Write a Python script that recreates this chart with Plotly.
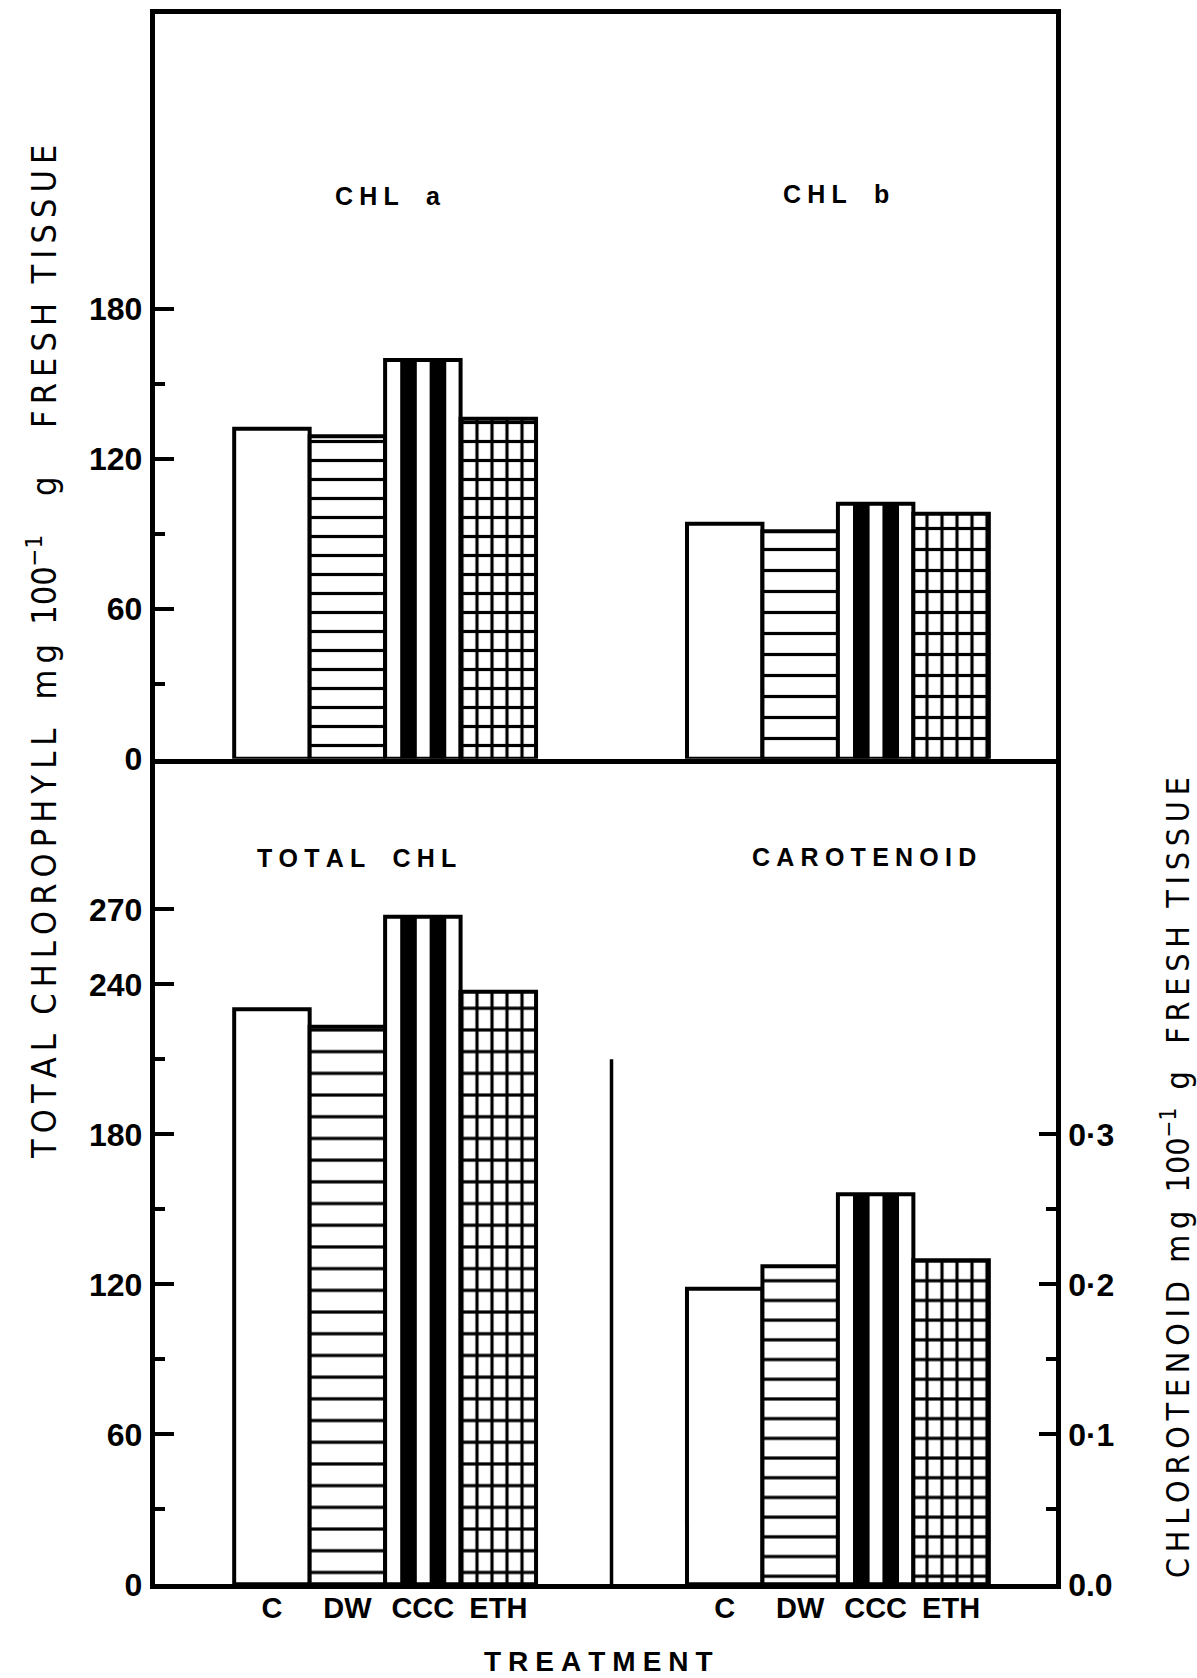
import plotly.graph_objects as go

# ---- data -------------------------------------------------------------
treatments = ["C", "DW", "CCC", "ETH"]
chl_a = [132, 129, 159.5, 136]
chl_b = [94, 91, 102, 98]
total_chl = [230, 223, 267, 237]
carotenoid = [0.197, 0.212, 0.260, 0.216]

chl_ticks_top = [0, 60, 120, 180]
chl_minor_top = [30, 90, 150]
chl_ticks_bottom = [0, 60, 120, 180, 240, 270]
chl_minor_bottom = [30, 90, 150, 210]
car_ticks = [0.0, 0.1, 0.2, 0.3]
car_ticktext = ["0.0", "0·1", "0·2", "0·3"]
car_minor = [0.05, 0.15, 0.25]

panel_labels = ["CHL a", "CHL b", "TOTAL CHL", "CAROTENOID"]
left_title = ["TOTAL", "CHLOROPHYLL", "mg", "100<sup>−1</sup>", "g", "FRESH", "TISSUE"]
right_title = ["CHLOROTENOID", "mg", "100<sup>−1</sup>", "g", "FRESH", "TISSUE"]

# ---- geometry / style -------------------------------------------------
W, H = 1197, 1678
GROUP_STEP = 6            # slot distance between the two bar groups
CAR_PER_CHL = 1 / 600.0   # right-axis calibration against the left axis
X_LEFT, X_RIGHT = 154.5, 1056.0
Y_TOP, Y_MID, Y_BOT = 14.0, 758.7, 1584.3
PX_PER_UNIT = 2.5
TOP_MAX = (Y_MID - Y_TOP) / PX_PER_UNIT
BOT_MAX = (Y_BOT - Y_MID) / PX_PER_UNIT
X_RANGE = [-1.556, 10.39]

FRAME = 4.5
OUTLINE = 4
HATCH_LW = 3.2
GRID_COL = 15.0
STRIPE_W = 0.22
STRIPE_OFFSETS = [-0.30, 0.09]

FONT = "Liberation Sans, Arial, sans-serif"
COND = "DejaVu Sans Condensed, Liberation Sans Narrow, DejaVu Sans, sans-serif"
NBSP = "\u00a0"


def fx(px):
    return px / W


def fy(px):
    return 1 - px / H


def spaced(words, gap="\u00a0\u00a0\u00a0\u2005", sep="\u2005"):
    return gap.join(sep.join(w) for w in words)


def loose(words, sep, gaps):
    """Letter-spaced title; gaps[i] = number of no-break spaces after word i."""
    out = ""
    for i, w in enumerate(words):
        out += w if "<" in w else sep.join(w)
        if i < len(gaps):
            out += NBSP * gaps[i]
    return out


fig = go.Figure()


def add_bars(value_sets, slots, hatch, xref, yref):
    for i, name in enumerate(treatments):
        xs = [g * GROUP_STEP + i for g in slots]
        ys = [vals[i] for vals in value_sets]
        marker = dict(color="white", line=dict(color="black", width=OUTLINE))
        if name == "DW":
            marker["pattern"] = dict(shape="-", size=hatch,
                                     solidity=[HATCH_LW / s for s in hatch],
                                     fgcolor="black", bgcolor="white")
        if name == "ETH":
            marker["pattern"] = dict(shape="|", size=GRID_COL,
                                     solidity=HATCH_LW / GRID_COL,
                                     fgcolor="black", bgcolor="white")
        fig.add_trace(go.Bar(x=xs, y=ys, width=1, marker=marker,
                             xaxis=xref, yaxis=yref, hoverinfo="skip"))
        if name == "ETH":
            fig.add_trace(go.Bar(
                x=xs, y=ys, width=1, xaxis=xref, yaxis=yref, hoverinfo="skip",
                marker=dict(color="rgba(0,0,0,0)", line=dict(width=0),
                            pattern=dict(shape="-", size=hatch,
                                         solidity=[HATCH_LW / s for s in hatch],
                                         fgcolor="black",
                                         bgcolor="rgba(0,0,0,0)"))))
        if name == "CCC":
            for off in STRIPE_OFFSETS:
                fig.add_trace(go.Bar(
                    x=xs, y=ys, width=STRIPE_W, offset=off,
                    xaxis=xref, yaxis=yref, hoverinfo="skip",
                    marker=dict(color="black", line=dict(width=0))))


# top panel: CHL a and CHL b on the same scale
add_bars([chl_a, chl_b], [0, 1], [19.0, 21.0], "x", "y")
# bottom panel: total chlorophyll (left scale) and carotenoid (right scale)
add_bars([total_chl], [0], [21.7], "x2", "y2")
add_bars([carotenoid], [1], [19.7], "x2", "y3")

bottom_slots = [g * GROUP_STEP + i for g in (0, 1) for i in range(len(treatments))]

tick_font = dict(family=FONT, size=32, color="black", weight="bold")
yaxis_common = dict(showline=True, linewidth=FRAME, linecolor="black",
                    showgrid=False, zeroline=False, ticks="inside", ticklen=20,
                    tickwidth=3.5, tickcolor="black", ticklabelstandoff=1,
                    automargin=False, tickfont=tick_font)
xaxis_common = dict(domain=[fx(X_LEFT), fx(X_RIGHT)], range=X_RANGE,
                    showline=True, linewidth=FRAME, linecolor="black",
                    showgrid=False, zeroline=False, ticks="", ticklen=0,
                    automargin=False)

fig.update_layout(
    template="none",
    width=W, height=H, margin=dict(l=0, r=0, t=0, b=0, pad=0), autosize=False,
    paper_bgcolor="white", plot_bgcolor="white",
    barmode="overlay", showlegend=False,
    xaxis=dict(**xaxis_common, anchor="y", mirror=True, showticklabels=False),
    yaxis=dict(**yaxis_common, domain=[fy(Y_MID), fy(Y_TOP)], range=[0, TOP_MAX],
               anchor="x", mirror=True, tickvals=chl_ticks_top,
               minor=dict(tickvals=chl_minor_top, ticklen=11, tickwidth=3.5,
                          tickcolor="black", ticks="inside")),
    xaxis2=dict(**xaxis_common, anchor="y2", mirror=False, tickvals=bottom_slots,
                ticktext=treatments * 2, ticklabelstandoff=-6,
                tickfont=dict(family=FONT, size=29, color="black", weight="bold")),
    yaxis2=dict(**yaxis_common, domain=[fy(Y_BOT), fy(Y_MID)], range=[0, BOT_MAX],
                anchor="x2", mirror=False, tickvals=chl_ticks_bottom,
                minor=dict(tickvals=chl_minor_bottom, ticklen=11, tickwidth=3.5,
                           tickcolor="black", ticks="inside")),
    yaxis3=dict(overlaying="y2", side="right", anchor="x2",
                range=[0, BOT_MAX * CAR_PER_CHL],
                showline=True, linewidth=FRAME, linecolor="black",
                showgrid=False, zeroline=False, ticks="inside", ticklen=17,
                tickwidth=3.5, tickcolor="black", ticklabelstandoff=1,
                automargin=False,
                tickvals=car_ticks, ticktext=car_ticktext, tickfont=tick_font,
                minor=dict(tickvals=car_minor, ticklen=10, tickwidth=3.5,
                           tickcolor="black", ticks="inside")),
)

# divider between the two bottom groups
divider_x = (len(treatments) - 1 + GROUP_STEP) / 2
fig.add_shape(type="line", xref="x2", yref="y2", x0=divider_x, x1=divider_x,
              y0=0, y1=210, line=dict(color="black", width=3.5))

# panel captions
label_font = dict(family=FONT, size=25, color="black", weight="bold")
label_pos = [(388, 196), (836, 194), (356, 858), (864, 857)]
for text, (px, py) in zip(panel_labels, label_pos):
    fig.add_annotation(x=fx(px), y=fy(py), xref="paper", yref="paper",
                       text=spaced(text.split(" ")), showarrow=False,
                       xanchor="center", yanchor="middle", font=label_font)

fig.add_annotation(x=fx(598), y=fy(1661), xref="paper", yref="paper",
                   text=spaced(["TREATMENT"]), showarrow=False,
                   xanchor="center", yanchor="middle",
                   font=dict(family=FONT, size=28, color="black", weight="bold"))

# rotated axis titles
fig.add_annotation(x=fx(42), y=fy(652), xref="paper", yref="paper",
                   text=loose(left_title, "\u2009", [2, 3, 2, 4, 5, 2]),
                   textangle=-90, showarrow=False,
                   xanchor="center", yanchor="middle",
                   font=dict(family=COND, size=34, color="black"))
fig.add_annotation(x=fx(1176), y=fy(1178), xref="paper", yref="paper",
                   text=loose(right_title, "\u2009", [2, 2, 2, 3, 2]),
                   textangle=-90, showarrow=False,
                   xanchor="center", yanchor="middle",
                   font=dict(family=COND, size=32, color="black"))

fig.write_html("out.html")
